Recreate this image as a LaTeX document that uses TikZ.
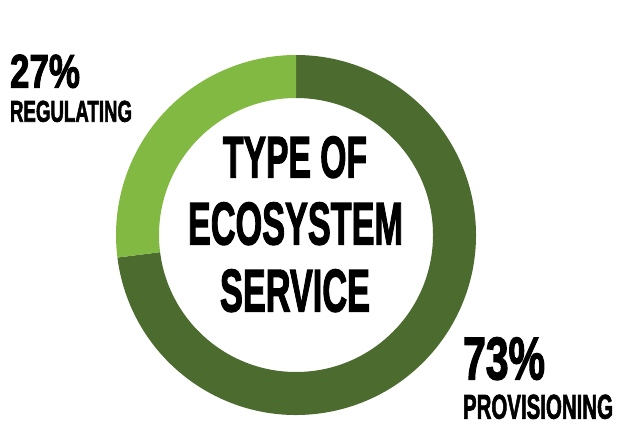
\documentclass[tikz,border=0pt]{standalone}
\usepackage{fontspec}
\usepackage{graphicx}
\setmainfont{Liberation Sans}
\newfontfamily\heavyfont[FakeBold=2.5]{Liberation Sans Bold}
\definecolor{darkgreen}{HTML}{4B6B2F}
\definecolor{lightgreen}{HTML}{82B942}
\newcommand{\fitbox}[3]{\resizebox{#1pt}{#2pt}{\heavyfont #3}}
\tikzset{lbl/.style={anchor=south west, inner sep=0pt, outer sep=0pt, text=black}}
\begin{document}
\begin{tikzpicture}[x=1pt,y=1pt]
\useasboundingbox (0,0) rectangle (620,424);
\begin{scope}[shift={(296,189)}]
\fill[darkgreen] (187.2:180) arc (187.2:450:180) -- (90:137) arc (90:-172.8:137) -- cycle;
\fill[lightgreen] (90:180) arc (90:187.2:180) -- (187.2:137) arc (187.2:90:137) -- cycle;
\end{scope}
\node[lbl] (t1) at (223,246) {\fitbox{144}{41}{TYPE OF}};
\node[lbl] (t2) at (188,179) {\fitbox{215}{42}{ECOSYSTEM}};
\node[lbl] (t3) at (220,112) {\fitbox{150}{42}{SERVICE}};
\node[lbl] (p27) at (10,336) {\fitbox{70}{33}{27\%}};
\node[lbl] (reg) at (10,302) {\fitbox{122}{21}{REGULATING}};
\node[lbl] (p73) at (463,44) {\fitbox{82}{42}{73\%}};
\node[lbl] (prov) at (463,5) {\fitbox{150}{24}{PROVISIONING}};
\end{tikzpicture}
\end{document}
